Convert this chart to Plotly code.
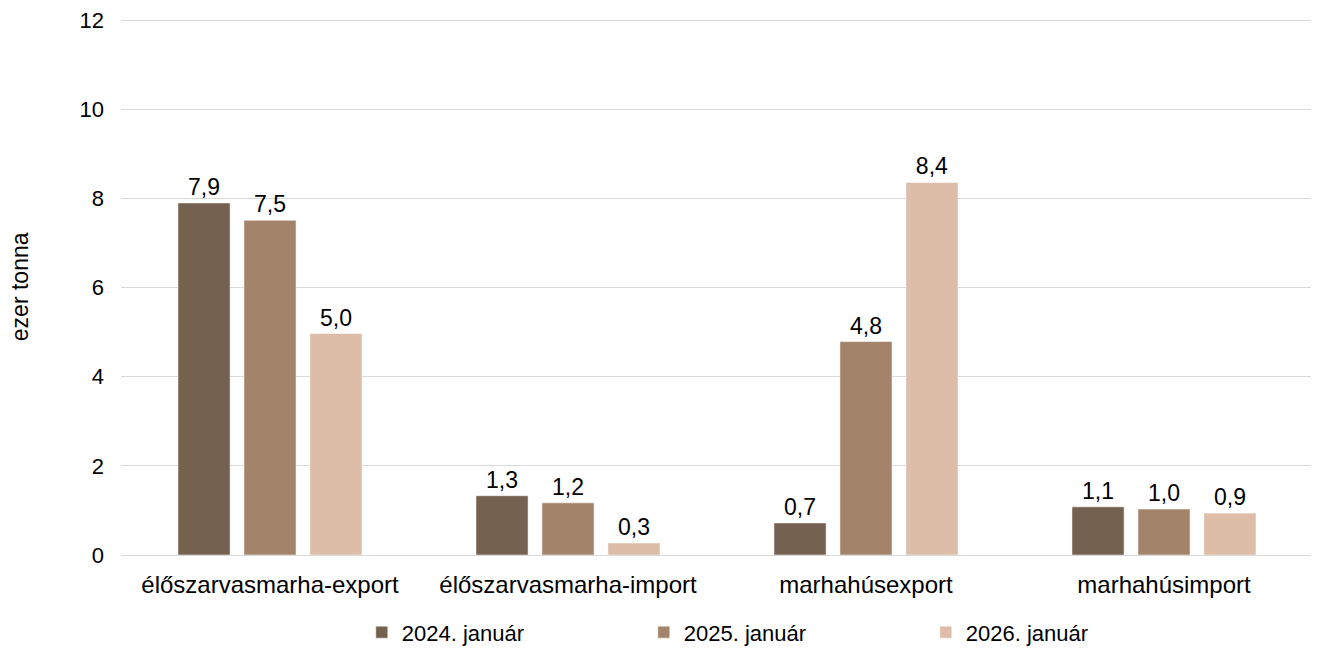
import plotly.graph_objects as go

categories = ["élőszarvasmarha-export", "élőszarvasmarha-import", "marhahúsexport", "marhahúsimport"]
series_names = ["2024. január", "2025. január", "2026. január"]
v2024 = [7.9, 1.33, 0.72, 1.08]
v2025 = [7.51, 1.17, 4.79, 1.03]
v2026 = [4.97, 0.27, 8.36, 0.94]
colors = ["#75614F", "#A3846B", "#DDBDA7"]
y_ticks = [0, 2, 4, 6, 8, 10, 12]

font_main = "Arial, Liberation Sans, sans-serif"

fig = go.Figure()
for name, vals, col in zip(series_names, [v2024, v2025, v2026], colors):
    fig.add_trace(go.Bar(
        x=categories, y=vals, name=name,
        marker=dict(color=col, line=dict(color="rgba(255,255,255,0.5)", width=1)),
        texttemplate="%{y:.1f}", textposition="outside",
        textfont=dict(size=23, color="#000000", family=font_main),
        cliponaxis=False,
    ))

fig.update_layout(
    width=1311, height=640,
    margin=dict(l=113, r=6, t=10, b=93, autoexpand=False),
    paper_bgcolor="white", plot_bgcolor="white",
    separators=", ",
    barmode="group", bargap=0.336, bargroupgap=0.21,
    font=dict(family=font_main, size=22, color="#000000"),
    showlegend=True,
    legend=dict(
        orientation="h", x=0.202, xanchor="left", y=-0.144, yanchor="middle",
        font=dict(family=font_main, size=22, color="#000000"),
        entrywidth=237, entrywidthmode="pixels", itemwidth=30,
        traceorder="normal",
    ),
    annotations=[dict(
        text="ezer tonna", xref="paper", yref="paper", x=-0.085, y=0.5,
        xanchor="center", yanchor="middle", textangle=-90, showarrow=False,
        font=dict(size=23, family=font_main, color="#000000"),
    )],
)
fig.update_xaxes(
    showgrid=False, showline=False, zeroline=False, ticks="", automargin=False,
    ticklabelstandoff=13,
    tickfont=dict(size=24, family=font_main, color="#000000"),
)
fig.update_yaxes(
    range=[0, 12.05], tickvals=y_ticks, showgrid=True, gridcolor="#D9D9D9", gridwidth=1,
    zeroline=True, zerolinecolor="#D9D9D9", zerolinewidth=1, showline=False,
    ticks="", ticklabelstandoff=16, automargin=False, ticklabeloverflow="allow",
    tickfont=dict(size=22, family=font_main, color="#000000"),
)

fig.write_html("out.html")
